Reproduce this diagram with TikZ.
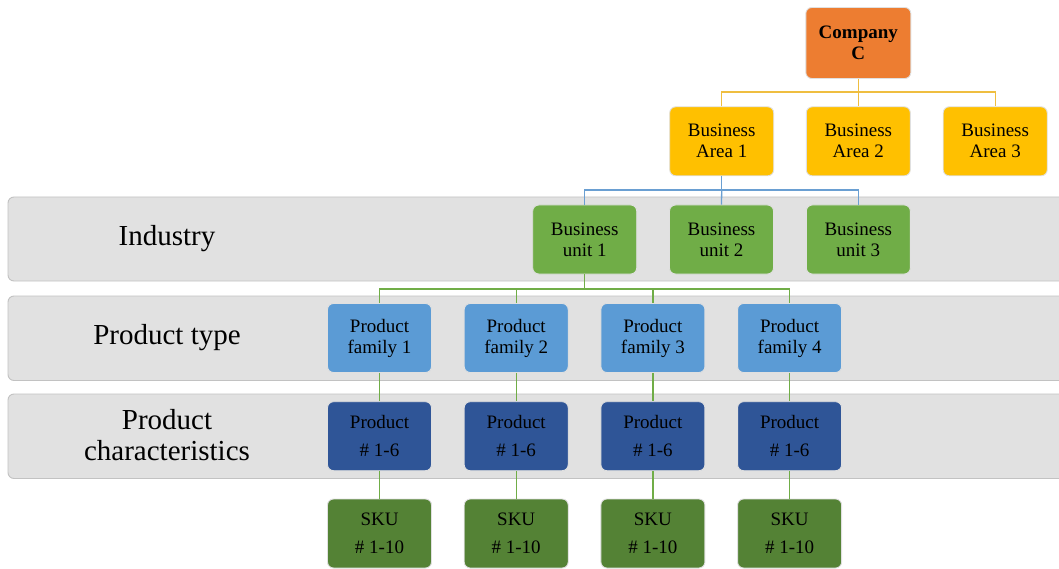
\documentclass[tikz,border=0pt]{standalone}
\usepackage{fontspec}
\setmainfont{Liberation Serif}
\definecolor{bandfill}{HTML}{E1E1E1}
\definecolor{bandline}{HTML}{C2C2C2}
\definecolor{cOrange}{HTML}{ED7D31}
\definecolor{cGold}{HTML}{FFC000}
\definecolor{cLime}{HTML}{70AD47}
\definecolor{cSky}{HTML}{5B9BD5}
\definecolor{cNavy}{HTML}{2F5597}
\definecolor{cForest}{HTML}{548235}
\definecolor{lnGold}{HTML}{EFBE40}
\definecolor{lnBlue}{HTML}{6A9FD2}
\definecolor{lnGreen}{HTML}{70AD47}
\tikzset{
  band/.style={fill=bandfill, draw=bandline, line width=0.9pt, rounded corners=6pt},
  bandlabel/.style={align=center, inner sep=0pt, font=\fontsize{29}{31}\selectfont},
  box/.style={rounded corners=6pt, draw=white!88!black, line width=0.9pt,
    minimum width=104pt, minimum height=69pt, inner sep=0pt, align=center,
    text=black, font=\fontsize{19}{21}\selectfont},
  tallbox/.style={box, font=\fontsize{19}{28.5}\selectfont},
  conn/.style={line width=1.3pt},
}
\begin{document}
\begin{tikzpicture}[x=1pt, y=-1pt]
\useasboundingbox (0,0) rectangle (1059,569);
\clip (0,0) rectangle (1059,569);

% level bands
\draw[band] (8,197) rectangle (1075,281);
\draw[band] (8,296) rectangle (1075,380.5);
\draw[band] (8,394) rectangle (1075,478.5);
\node[bandlabel] (lInd) at (167,239) {Industry};
\node[bandlabel] (lType) at (167,338) {Product type};
\node[bandlabel] (lChar) at (167,435.5) {Product\\characteristics};

% company and business areas
\node[box, fill=cOrange, minimum width=105pt, minimum height=71pt,
      font=\fontsize{19}{21}\selectfont\bfseries] (C) at (858.3,43) {Company\\C};
\node[box, fill=cGold] (A1) at (721.7,141.3) {Business\\Area 1};
\node[box, fill=cGold] (A2) at (858.3,141.3) {Business\\Area 2};
\node[box, fill=cGold] (A3) at (995.2,141.3) {Business\\Area 3};

% business units
\node[box, fill=cLime] (U1) at (584.7,239.5) {Business\\unit 1};
\node[box, fill=cLime] (U2) at (721.5,239.5) {Business\\unit 2};
\node[box, fill=cLime] (U3) at (858.3,239.5) {Business\\unit 3};

% product families, products and SKUs
\foreach \i/\x in {1/379.5, 2/516.2, 3/652.9, 4/789.6} {
  \node[box, fill=cSky] (F\i) at (\x,338) {Product\\family \i};
  \node[tallbox, fill=cNavy] (P\i) at (\x,436.2) {Product\\\# 1-6};
  \node[tallbox, fill=cForest] (S\i) at (\x,533.5) {SKU\\\# 1-10};
}

% connectors
\coordinate (jA) at (858.3,92);
\coordinate (jB) at (721.7,190);
\coordinate (jU) at (584.7,289);

\draw[conn, lnGold] (C.south) -- (jA);
\draw[conn, lnGold] (A1.north) |- (jA) -| (A3.north);
\draw[conn, lnGold] (jA) -- (A2.north);

\draw[conn, lnBlue] (A1.south) -- (jB);
\draw[conn, lnBlue] (U1.north) |- (jB) -| (U3.north);
\draw[conn, lnBlue] (jB) -- (U2.north);

\draw[conn, lnGreen] (U1.south) -- (jU);
\draw[conn, lnGreen] (F1.north) |- (jU) -| (F4.north);
\draw[conn, lnGreen] (F2.north) -- (F2.north |- jU);
\draw[conn, lnGreen] (F3.north) -- (F3.north |- jU);

\foreach \i in {1,2,3,4} {
  \draw[conn, lnGreen] (F\i.south) -- (P\i.north);
  \draw[conn, lnGreen] (P\i.south) -- (S\i.north);
}
\end{tikzpicture}
\end{document}
